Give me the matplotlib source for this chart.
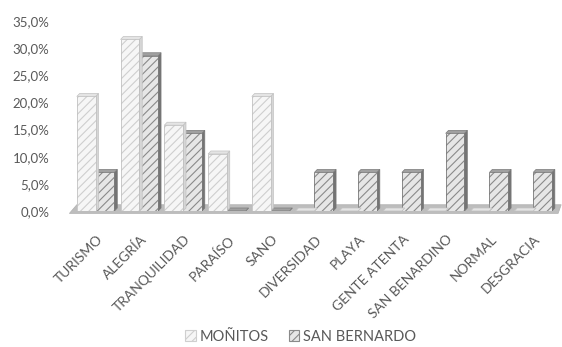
import matplotlib.pyplot as plt
import matplotlib.patches as patches
import numpy as np

categories = ["TURISMO", "ALEGRÍA", "TRANQUILIDAD", "PARAÍSO", "SANO", "DIVERSIDAD",
              "PLAYA", "GENTE ATENTA", "SAN BENARDINO", "NORMAL", "DESGRACIA"]
monitos = [21.1, 31.6, 15.8, 10.5, 21.1, 0, 0, 0, 0, 0, 0]
san_bernardo = [7.1, 28.6, 14.3, 0, 0, 7.1, 7.1, 7.1, 14.3, 7.1, 7.1]
series_names = ["MOÑITOS", "SAN BERNARDO"]
y_ticks = [0, 5, 10, 15, 20, 25, 30, 35]

# face, hatch, outline, side, top
STYLES = [
    dict(face="#f6f6f6", hatch="#cfcfcf", edge="#c2c2c2", side="#d6d6d6", top="#e4e4e4"),
    dict(face="#e6e6e6", hatch="#8a8a8a", edge="#7a7a7a", side="#747474", top="#a0a0a0"),
]

BAR_W = 0.43
DX = 0.065   # depth offset in x (category units)
DY = 0.55    # depth offset in y (percent units)

plt.rcParams["hatch.linewidth"] = 0.8
plt.rcParams["font.family"] = ["Lato", "DejaVu Sans"]

fig = plt.figure(figsize=(5.62, 3.47), dpi=100)
ax = fig.add_axes([0.125, 0.392, 0.872, 0.5475])
ax.set_xlim(-0.6, 10.6)
ax.set_ylim(0, 35)

x = np.arange(len(categories))

# floor slab
floor = patches.Polygon([(-0.62, -0.45), (10.55, -0.45), (10.62, 1.15), (-0.45, 1.15)],
                        closed=True, facecolor="#bdbdbd", edgecolor="#b0b0b0", linewidth=0.5,
                        zorder=1, clip_on=False)
ax.add_patch(floor)


def draw_bars(xs, vals, st, z):
    for x0, h in zip(xs, vals):
        # side face
        side = patches.Polygon([(x0 + BAR_W, 0), (x0 + BAR_W + DX, DY), (x0 + BAR_W + DX, h + DY), (x0 + BAR_W, h)],
                               closed=True, facecolor=st["side"], edgecolor=st["edge"], linewidth=0.5, zorder=z)
        ax.add_patch(side)
        # top face
        top = patches.Polygon([(x0, h), (x0 + DX, h + DY), (x0 + BAR_W + DX, h + DY), (x0 + BAR_W, h)],
                              closed=True, facecolor=st["top"], edgecolor=st["edge"], linewidth=0.5, zorder=z)
        ax.add_patch(top)
    ax.bar(xs, vals, width=BAR_W, align="edge", color=st["face"], edgecolor=st["hatch"],
           hatch="////", linewidth=0, zorder=z + 0.1)
    ax.bar(xs, vals, width=BAR_W, align="edge", fill=False, edgecolor=st["edge"],
           linewidth=0.6, zorder=z + 0.2)


draw_bars(x - BAR_W - 0.02, monitos, STYLES[0], 3)
draw_bars(x - 0.02, san_bernardo, STYLES[1], 2)

for s in ax.spines.values():
    s.set_visible(False)
ax.set_yticks(y_ticks)
ax.set_yticklabels([f"{v:.1f}%".replace(".", ",") for v in y_ticks])
ax.tick_params(axis="y", length=0, pad=15, labelsize=9.5, labelcolor="#595959")
ax.set_xticks(x)
ax.set_xticklabels(categories, rotation=45, ha="right", rotation_mode="anchor")
ax.tick_params(axis="x", length=0, pad=16, labelsize=10, labelcolor="#595959")

handles = [patches.Patch(facecolor=st["face"], edgecolor=st["hatch"], hatch="////", linewidth=0.8)
           for st in STYLES]
leg = fig.legend(handles, series_names, loc="center", bbox_to_anchor=(0.535, 0.03), ncol=2,
                 frameon=False, fontsize=10.5, handlelength=0.7, handleheight=0.7,
                 handletextpad=0.25, columnspacing=1.4, labelcolor="#595959")

fig.savefig("out.png", dpi=100)
